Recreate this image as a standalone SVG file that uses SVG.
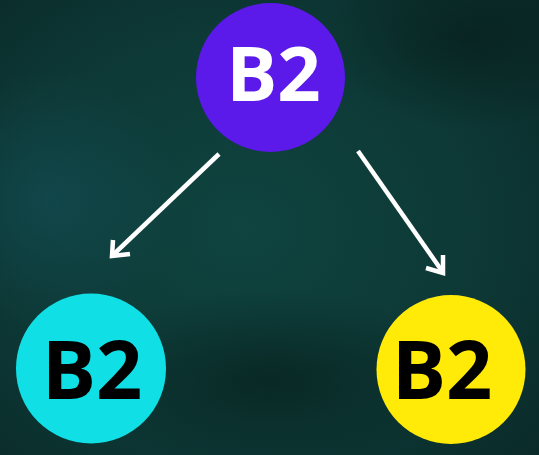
<svg xmlns="http://www.w3.org/2000/svg" width="539" height="455" viewBox="0 0 539 455">
  <defs>
    <radialGradient id="bg" cx="0.45" cy="0.5" r="0.75">
      <stop offset="0" stop-color="#0f4440"/>
      <stop offset="0.6" stop-color="#0d3835"/>
      <stop offset="1" stop-color="#0a2a29"/>
    </radialGradient>
    <radialGradient id="glow1" cx="0.5" cy="0.5" r="0.5">
      <stop offset="0" stop-color="#14505a" stop-opacity="0.55"/>
      <stop offset="1" stop-color="#14505a" stop-opacity="0"/>
    </radialGradient>
    <radialGradient id="dark1" cx="0.5" cy="0.5" r="0.5">
      <stop offset="0" stop-color="#061c19" stop-opacity="0.6"/>
      <stop offset="1" stop-color="#061c19" stop-opacity="0"/>
    </radialGradient>
    <style>
      .arrow { fill: none; stroke: #ffffff; stroke-width: 4.5; stroke-linecap: butt; stroke-linejoin: miter; }
      .label { font-family: "Open Sans", "Noto Sans", "DejaVu Sans", sans-serif; font-weight: 700; text-anchor: middle; }
    </style>
  </defs>
  <rect width="539" height="455" fill="url(#bg)"/>
  <ellipse cx="50" cy="200" rx="130" ry="130" fill="url(#glow1)"/>
  <ellipse cx="470" cy="40" rx="150" ry="90" fill="url(#dark1)"/>
  <ellipse cx="270" cy="380" rx="200" ry="90" fill="url(#dark1)"/>

  <g id="connectors">
    <path class="arrow" d="M219,154 L113,255"/>
    <path class="arrow" d="M113,240 L112,256 L130,254"/>
    <path class="arrow" d="M358,151 L442,271"/>
    <path class="arrow" d="M443,255 L443,273 L426,268"/>
  </g>

  <g id="node-top">
    <circle cx="270.5" cy="77.5" r="74.5" fill="#5b19ea"/>
    <text class="label" x="273.5" y="101" font-size="76" fill="#ffffff">B2</text>
  </g>
  <g id="node-left">
    <circle cx="91" cy="368.5" r="75" fill="#10e0e6"/>
    <text class="label" x="92" y="398.5" font-size="81" fill="#000000">B2</text>
  </g>
  <g id="node-right">
    <circle cx="451" cy="369.5" r="74.5" fill="#ffea08"/>
    <text class="label" x="442" y="398.5" font-size="81" fill="#000000">B2</text>
  </g>
</svg>
